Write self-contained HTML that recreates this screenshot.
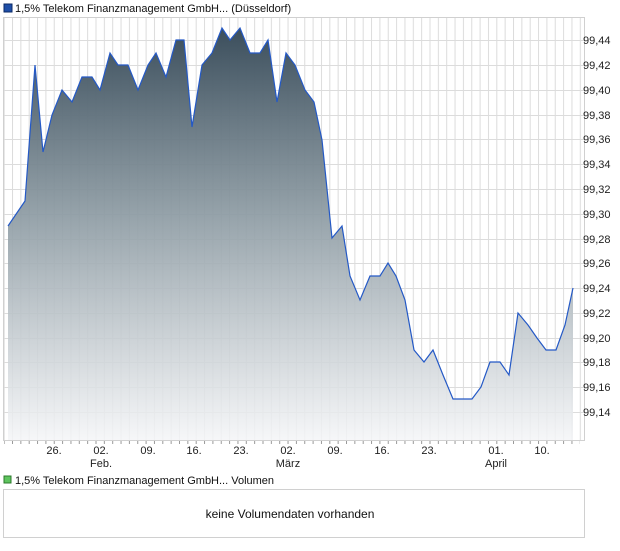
<!DOCTYPE html>
<html><head><meta charset="utf-8"><style>
body{margin:0;background:#fff;font-family:"Liberation Sans",sans-serif;}
</style></head><body>
<svg width="620" height="546" xmlns="http://www.w3.org/2000/svg" font-family="Liberation Sans, sans-serif">
<defs>
<linearGradient id="g" x1="0" y1="0" x2="0" y2="1">
<stop offset="0" stop-color="#3b4e5c" stop-opacity="1"/>
<stop offset="0.45" stop-color="#8d9ba3" stop-opacity="0.93"/>
<stop offset="1" stop-color="#f4f5f7" stop-opacity="0.85"/>
</linearGradient>
<pattern id="vp" x="12" y="0" width="8.35" height="546" patternUnits="userSpaceOnUse">
<rect x="0" y="0" width="1" height="546" fill="#dcdcdc"/>
</pattern>
<pattern id="tp" x="12" y="0" width="8.35" height="546" patternUnits="userSpaceOnUse">
<rect x="0" y="0" width="1" height="546" fill="#999"/>
</pattern>
</defs>
<rect x="4" y="4" width="8" height="8" fill="#1f4fa8" stroke="#0b2a66" stroke-width="1"/>
<text x="15" y="12" font-size="11" fill="#111">1,5% Telekom Finanzmanagement GmbH... (Düsseldorf)</text>
<rect x="3.5" y="17.5" width="581" height="423" fill="#fff" stroke="#d0d0d0"/>
<rect x="4" y="18" width="580" height="422" fill="url(#vp)"/>
<rect x="4" y="441" width="576" height="3" fill="url(#tp)"/>
<g stroke="#dcdcdc" stroke-width="1">
<line x1="4" x2="584" y1="40.5" y2="40.5"/><line x1="4" x2="584" y1="65.5" y2="65.5"/><line x1="4" x2="584" y1="90.5" y2="90.5"/><line x1="4" x2="584" y1="115.5" y2="115.5"/><line x1="4" x2="584" y1="139.5" y2="139.5"/><line x1="4" x2="584" y1="164.5" y2="164.5"/><line x1="4" x2="584" y1="189.5" y2="189.5"/><line x1="4" x2="584" y1="214.5" y2="214.5"/><line x1="4" x2="584" y1="239.5" y2="239.5"/><line x1="4" x2="584" y1="263.5" y2="263.5"/><line x1="4" x2="584" y1="288.5" y2="288.5"/><line x1="4" x2="584" y1="313.5" y2="313.5"/><line x1="4" x2="584" y1="338.5" y2="338.5"/><line x1="4" x2="584" y1="362.5" y2="362.5"/><line x1="4" x2="584" y1="387.5" y2="387.5"/><line x1="4" x2="584" y1="412.5" y2="412.5"/>
</g>
<polygon fill="url(#g)" points="8,440 8,226 25,201 35,65 43,152 52,115 62,90 72,102 82,77 92,77 100,90 110,53 118,65 128,65 138,90 148,65 156,53 166,77 176,40 184,40 192,127 202,65 212,53 222,28 230,40 240,28 250,53 260,53 268,40 277,102 286,53 295,65 305,90 314,102 322,140 332,238 342,226 350,276 360,300 370,276 380,276 388,263 396,276 405,300 414,350 424,362 433,350 443,375 453,399 463,399 472,399 481,387 490,362 500,362 509,375 518,313 528,325 537,338 546,350 556,350 565,325 573,288 573,440"/>
<polyline fill="none" stroke="#2459c6" stroke-width="1.2" points="8,226 25,201 35,65 43,152 52,115 62,90 72,102 82,77 92,77 100,90 110,53 118,65 128,65 138,90 148,65 156,53 166,77 176,40 184,40 192,127 202,65 212,53 222,28 230,40 240,28 250,53 260,53 268,40 277,102 286,53 295,65 305,90 314,102 322,140 332,238 342,226 350,276 360,300 370,276 380,276 388,263 396,276 405,300 414,350 424,362 433,350 443,375 453,399 463,399 472,399 481,387 490,362 500,362 509,375 518,313 528,325 537,338 546,350 556,350 565,325 573,288"/>
<g font-size="11" fill="#222">
<text x="583" y="44">99,44</text><text x="583" y="69">99,42</text><text x="583" y="94">99,40</text><text x="583" y="119">99,38</text><text x="583" y="143">99,36</text><text x="583" y="168">99,34</text><text x="583" y="193">99,32</text><text x="583" y="218">99,30</text><text x="583" y="243">99,28</text><text x="583" y="267">99,26</text><text x="583" y="292">99,24</text><text x="583" y="317">99,22</text><text x="583" y="342">99,20</text><text x="583" y="366">99,18</text><text x="583" y="391">99,16</text><text x="583" y="416">99,14</text>
</g>
<g font-size="11" fill="#222" text-anchor="middle">
<text x="54" y="454">26.</text><text x="101" y="454">02.</text><text x="148" y="454">09.</text><text x="194" y="454">16.</text><text x="241" y="454">23.</text><text x="288" y="454">02.</text><text x="335" y="454">09.</text><text x="382" y="454">16.</text><text x="429" y="454">23.</text><text x="496" y="454">01.</text><text x="542" y="454">10.</text>
<text x="101" y="467">Feb.</text><text x="288" y="467">März</text><text x="496" y="467">April</text>
</g>
<rect x="4" y="476" width="7" height="7" fill="#5ec45e" stroke="#2c7a2c"/>
<text x="15" y="484" font-size="11" fill="#111">1,5% Telekom Finanzmanagement GmbH... Volumen</text>
<rect x="3.5" y="489.5" width="581" height="48" fill="#fff" stroke="#d0d0d0"/>
<text x="290" y="518" font-size="12" fill="#111" text-anchor="middle">keine Volumendaten vorhanden</text>
</svg>
</body></html>
